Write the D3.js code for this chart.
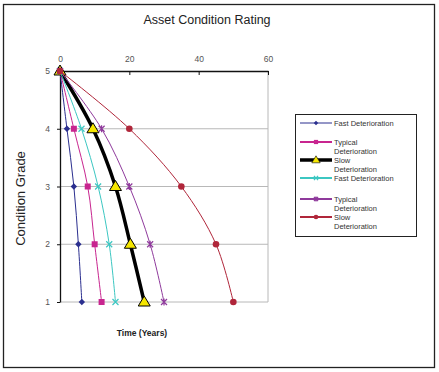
<!DOCTYPE html>
<html>
<head>
<meta charset="utf-8">
<script src="https://cdn.jsdelivr.net/npm/d3@7"></script>
<style>
  body { margin: 0; background: #fff; }
  text { font-family: "Liberation Sans", Arial, sans-serif; }
</style>
</head>
<body>
<div class="vis-chart"></div>
<script>
const grades = [5, 4, 3, 2, 1];
const gradeTicks = [5, 4, 3, 2, 1];
const timeTicks = [0, 20, 40, 60];

// years at which each grade is reached
const fastA = [0, 2, 4, 5.3, 6.3];
const typicalA = [0, 4, 8, 10, 12];
const slowA = [0, 9.5, 16, 20.3, 24.3];
const fastB = [0, 6.2, 11, 14.2, 16];
const typicalB = [0, 12, 20, 26, 30];
const slowB = [0, 20, 35, 45, 50];

const seriesNames = ["Fast Deterioration", "Typical Deterioration", "Slow Deterioration",
  "Fast Deterioration", "Typical Deterioration", "Slow Deterioration"];
const seriesValues = [fastA, typicalA, slowA, fastB, typicalB, slowB];
const lineColors = ["#2b2f8f", "#c8258f", "#000000", "#3cc7c2", "#8f3a9c", "#b0263a"];
const markerFill = ["#2b2f8f", "#c8258f", "#f5e600", "#3cc7c2", "#8f3a9c", "#b0263a"];
const lineWidths = [1, 1, 3.5, 1, 1, 1];
const markers = ["diamond", "square", "triangle", "x", "star", "circle"];

const W = 439, H = 372;
const svg = d3.select(".vis-chart").append("svg")
  .attr("width", W).attr("height", H);

// outer frame
svg.append("rect").attr("x", 3.5).attr("y", 4.5).attr("width", 431).attr("height", 363)
  .attr("fill", "#fff").attr("stroke", "#222").attr("stroke-width", 1.3);

const plot = { left: 60, right: 268, top: 71, bottom: 302 };
const x = d3.scaleLinear().domain([0, 60]).range([plot.left, plot.right]);
const y = d3.scaleLinear().domain([1, 5]).range([plot.bottom, plot.top]);

// title
svg.append("text").attr("x", 207).attr("y", 24).attr("text-anchor", "middle")
  .attr("font-size", 12.5).attr("fill", "#222").text("Asset Condition Rating");

// gridlines + gray plot border (right, bottom)
svg.append("g").selectAll("line").data(gradeTicks.filter(d => d < 5)).join("line")
  .attr("x1", plot.left).attr("x2", plot.right)
  .attr("y1", d => y(d)).attr("y2", d => y(d))
  .attr("stroke", "#b8b8b8").attr("stroke-width", 1);
svg.append("line").attr("x1", plot.right).attr("x2", plot.right)
  .attr("y1", plot.top).attr("y2", plot.bottom)
  .attr("stroke", "#b8b8b8").attr("stroke-width", 1);

// top axis
const xAxis = svg.append("g").attr("transform", `translate(0,${plot.top})`)
  .call(d3.axisTop(x).tickValues(timeTicks).tickSizeInner(-4).tickSizeOuter(0).tickPadding(9));
// left axis
const yAxis = svg.append("g").attr("transform", `translate(${plot.left},0)`)
  .call(d3.axisLeft(y).tickValues(gradeTicks).tickSize(3).tickSizeOuter(0).tickPadding(7)
    .tickFormat(d3.format("d")));
[xAxis, yAxis].forEach(a => {
  a.select(".domain").attr("stroke", "#111").attr("stroke-width", 1.3);
  a.selectAll(".tick line").attr("stroke", "#111");
  a.selectAll(".tick text").attr("font-size", 8.5).attr("fill", "#555")
    .attr("font-family", "Liberation Sans, Arial, sans-serif");
});

// axis titles
svg.append("text")
  .attr("transform", `translate(25,${(plot.top + plot.bottom) / 2 + 12}) rotate(-90)`)
  .attr("text-anchor", "middle").attr("font-size", 13).attr("fill", "#222")
  .text("Condition Grade");
svg.append("text").attr("x", 142).attr("y", 336).attr("text-anchor", "middle")
  .attr("font-size", 8.5).attr("font-weight", "bold").attr("fill", "#222")
  .text("Time (Years)");

const line = d3.line()
  .x(d => x(d[0])).y(d => y(d[1]))
  .curve(d3.curveCatmullRom.alpha(0.5));

function drawMarker(g, type, cx, cy, i, k) {
  const stroke = lineColors[i], fill = markerFill[i];
  if (type === "diamond") {
    const s = 3.2 * k;
    g.append("path").attr("d", `M${cx},${cy - s}L${cx + s},${cy}L${cx},${cy + s}L${cx - s},${cy}Z`)
      .attr("fill", fill);
  } else if (type === "square") {
    const s = 3 * k;
    g.append("rect").attr("x", cx - s).attr("y", cy - s).attr("width", 2 * s).attr("height", 2 * s)
      .attr("fill", fill);
  } else if (type === "triangle") {
    g.append("path").attr("d", `M${cx},${cy - 6 * k}L${cx + 6 * k},${cy + 4 * k}L${cx - 6 * k},${cy + 4 * k}Z`)
      .attr("fill", fill).attr("stroke", "#000").attr("stroke-width", k < 1 ? 0.6 : 1);
  } else if (type === "x") {
    const s = 3 * k;
    g.append("path").attr("d", `M${cx - s},${cy - s}L${cx + s},${cy + s}M${cx + s},${cy - s}L${cx - s},${cy + s}`)
      .attr("stroke", stroke).attr("stroke-width", 1.2);
  } else if (type === "star") {
    const s = 3 * k;
    g.append("path").attr("d", `M${cx - s},${cy - s}L${cx + s},${cy + s}M${cx + s},${cy - s}L${cx - s},${cy + s}M${cx},${cy - s - 0.5}L${cx},${cy + s + 0.5}`)
      .attr("stroke", stroke).attr("stroke-width", 1.2);
  } else {
    g.append("circle").attr("cx", cx).attr("cy", cy).attr("r", 3.3 * k).attr("fill", fill);
  }
}

// series
seriesValues.forEach((vals, i) => {
  const pts = vals.map((v, j) => [v, grades[j]]);
  const g = svg.append("g").attr("class", "series");
  g.append("path").datum(pts).attr("d", line)
    .attr("fill", "none").attr("stroke", lineColors[i]).attr("stroke-width", lineWidths[i]);
  pts.forEach(p => drawMarker(g, markers[i], x(p[0]), y(p[1]), i, 1));
});

// legend
const legend = svg.append("g");
legend.append("rect").attr("x", 295.5).attr("y", 114.5).attr("width", 121).attr("height", 122)
  .attr("fill", "#fff").attr("stroke", "#222").attr("stroke-width", 1);
const legendY = [123, 142, 160, 178, 199, 217];
seriesNames.forEach((name, i) => {
  const ly = legendY[i];
  legend.append("line").attr("x1", 300).attr("x2", 332).attr("y1", ly).attr("y2", ly)
    .attr("stroke", lineColors[i]).attr("stroke-width", i === 2 ? 3.5 : (i === 0 ? 1 : 2));
  drawMarker(legend, markers[i], 316, ly, i, 0.7);
  const words = name.split(" ");
  const t = legend.append("text").attr("x", 334).attr("y", ly + 2.5)
    .attr("font-size", 7.5).attr("fill", "#333");
  if (i === 0 || i === 3) {
    t.text(name);
  } else {
    t.append("tspan").attr("x", 334).text(words[0]);
    t.append("tspan").attr("x", 334).attr("dy", 9).text(words[1]);
  }
});
</script>
</body>
</html>
